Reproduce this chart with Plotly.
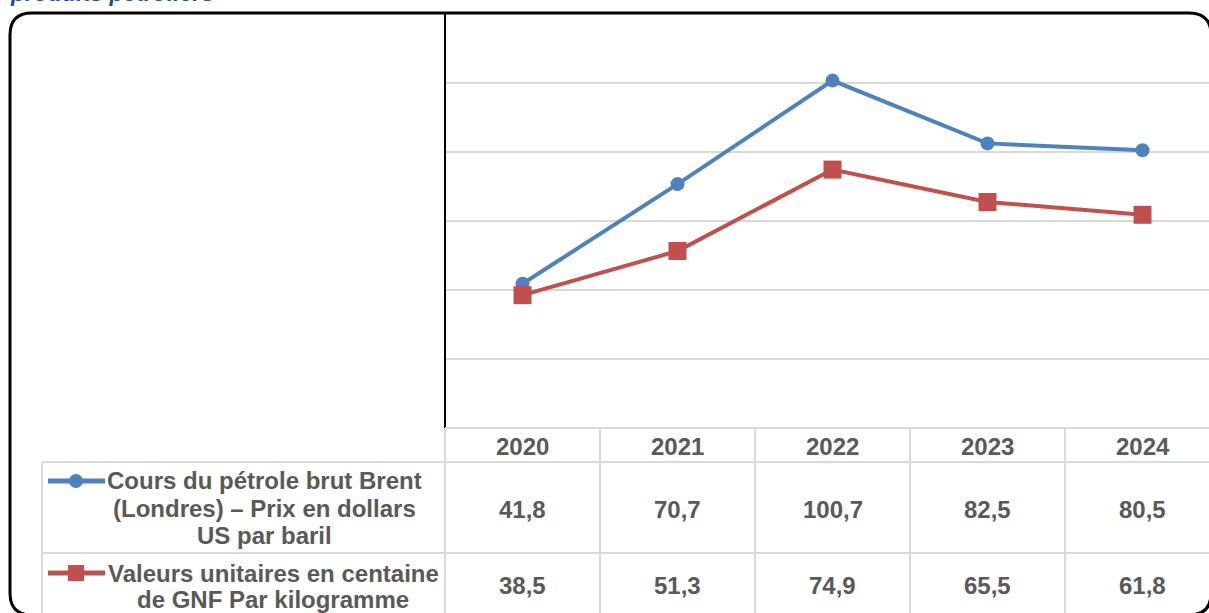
import plotly.graph_objects as go

years = ["2020", "2021", "2022", "2023", "2024"]
brent = [41.8, 70.7, 100.7, 82.5, 80.5]
valeurs = [38.5, 51.3, 74.9, 65.5, 61.8]
series_lines = [
    ["Cours du pétrole brut Brent", "(Londres) – Prix en dollars", "US par baril"],
    ["Valeurs unitaires en centaine", "de GNF Par kilogramme"],
]
title_text = "produits pétroliers"

W, H = 1209, 613
BLUE = "#4F81BD"
RED = "#C0504D"
GRID = "#D9D9D9"
TXT = "#595959"
FONT = "Liberation Sans, Arial, sans-serif"


def px(x):
    return x / W


def py(y):
    return 1 - y / H


fig = go.Figure()
xs = list(range(len(years)))
fig.add_trace(go.Scatter(x=xs, y=brent, mode="lines+markers",
                         line=dict(color=BLUE, width=4),
                         marker=dict(symbol="circle", size=14, color=BLUE),
                         showlegend=False, cliponaxis=False))
fig.add_trace(go.Scatter(x=xs, y=valeurs, mode="lines+markers",
                         line=dict(color=RED, width=4),
                         marker=dict(symbol="square", size=18, color=RED),
                         showlegend=False, cliponaxis=False))

plot_left, plot_top, plot_bottom = 445, 14, 428
cat_w = 155
xmax = -0.5 + (W - plot_left) / cat_w

fig.update_layout(
    width=W, height=H,
    margin=dict(l=0, r=0, t=0, b=0),
    paper_bgcolor="white", plot_bgcolor="white",
    xaxis=dict(domain=[px(plot_left), 1], range=[-0.5, xmax],
               showgrid=False, showticklabels=False, zeroline=False,
               showline=False, fixedrange=True),
    yaxis=dict(domain=[py(plot_bottom), py(plot_top)], range=[0, 120],
               tickvals=[20, 40, 60, 80, 100], showticklabels=False,
               showgrid=True, gridcolor=GRID, gridwidth=1.5,
               zeroline=False, showline=False, fixedrange=True),
)

shapes = []
shapes.append(dict(type="line", xref="paper", yref="paper",
                   x0=px(plot_left), x1=px(plot_left), y0=py(plot_top), y1=py(plot_bottom),
                   line=dict(color="#000000", width=2)))
shapes.append(dict(type="line", xref="paper", yref="paper",
                   x0=px(plot_left), x1=1, y0=py(428), y1=py(428),
                   line=dict(color=GRID, width=2)))
for yy in (462, 553):
    shapes.append(dict(type="line", xref="paper", yref="paper",
                       x0=px(42), x1=1, y0=py(yy), y1=py(yy),
                       line=dict(color=GRID, width=2)))
shapes.append(dict(type="line", xref="paper", yref="paper",
                   x0=px(42), x1=px(42), y0=py(462), y1=0,
                   line=dict(color=GRID, width=2)))
for i in range(len(years)):
    xl = plot_left + i * cat_w
    shapes.append(dict(type="line", xref="paper", yref="paper",
                       x0=px(xl), x1=px(xl), y0=py(428), y1=0,
                       line=dict(color=GRID, width=2)))

# rounded frame
r = 22
x0, y0, x1, y1 = 10, 13, 1211, 615
path = (f"M {px(x0)} {py(y1 - r)} L {px(x0)} {py(y0 + r)} "
        f"Q {px(x0)} {py(y0)} {px(x0 + r)} {py(y0)} "
        f"L {px(x1 - r)} {py(y0)} Q {px(x1)} {py(y0)} {px(x1)} {py(y0 + r)} "
        f"L {px(x1)} {py(y1 - r)} Q {px(x1)} {py(y1)} {px(x1 - r)} {py(y1)} "
        f"L {px(x0 + r)} {py(y1)} Q {px(x0)} {py(y1)} {px(x0)} {py(y1 - r)} Z")
shapes.append(dict(type="path", xref="paper", yref="paper", path=path,
                   line=dict(color="#000000", width=3)))

# legend swatches
for yy, col, sym in ((481, BLUE, "circle"), (573, RED, "square")):
    shapes.append(dict(type="line", xref="paper", yref="paper",
                       x0=px(48), x1=px(105), y0=py(yy), y1=py(yy),
                       line=dict(color=col, width=5)))
    if sym == "circle":
        shapes.append(dict(type="circle", xref="paper", yref="paper",
                           x0=px(69), x1=px(83), y0=py(yy - 7), y1=py(yy + 7),
                           fillcolor=col, line=dict(color=col, width=0)))
    else:
        shapes.append(dict(type="rect", xref="paper", yref="paper",
                           x0=px(68), x1=px(84), y0=py(yy - 8), y1=py(yy + 8),
                           fillcolor=col, line=dict(color=col, width=0)))
fig.update_layout(shapes=shapes)

ann = []
bold = dict(family=FONT, size=24, color=TXT)


def fmt(v):
    return f"{v:.1f}".replace(".", ",")


for i, yr in enumerate(years):
    ann.append(dict(x=i, xref="x", y=py(446), yref="paper", text=f"<b>{yr}</b>",
                    showarrow=False, font=bold, xanchor="center", yanchor="middle"))
    ann.append(dict(x=i, xref="x", y=py(509), yref="paper", text=f"<b>{fmt(brent[i])}</b>",
                    showarrow=False, font=bold, xanchor="center", yanchor="middle"))
    ann.append(dict(x=i, xref="x", y=py(585), yref="paper", text=f"<b>{fmt(valeurs[i])}</b>",
                    showarrow=False, font=bold, xanchor="center", yanchor="middle"))

for lines, cx, ys in ((series_lines[0], 264, (481, 508, 535)),
                      (series_lines[1], 273, (573, 599))):
    for t, yy in zip(lines, ys):
        ann.append(dict(x=px(cx), y=py(yy), xref="paper", yref="paper",
                        text=f"<b>{t}</b>", showarrow=False, font=bold,
                        xanchor="center", yanchor="middle"))

ann.append(dict(x=px(8), y=py(-7), xref="paper", yref="paper",
                text=f"<b><i>{title_text}</i></b>", showarrow=False,
                font=dict(family=FONT, size=23, color="#1F4E8F"),
                xanchor="left", yanchor="middle"))
fig.update_layout(annotations=ann)

fig.write_html("out.html", config={"displayModeBar": False},
               post_script="document.body.style.margin='0';document.body.style.overflow='hidden';")
